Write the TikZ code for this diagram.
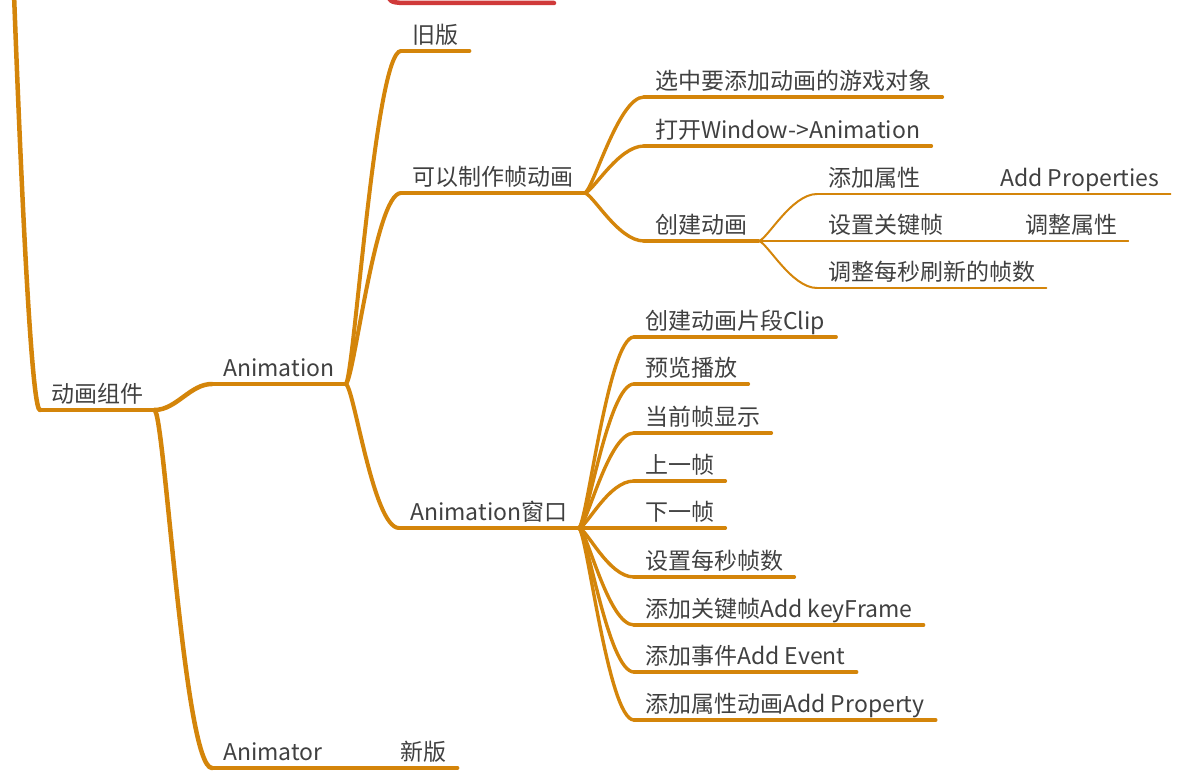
\documentclass[tikz,border=0pt]{standalone}
\usepackage{fontspec}
\setmainfont{Noto Sans CJK SC}
\usetikzlibrary{positioning}
\definecolor{mmorange}{HTML}{D4850A}
\definecolor{mmred}{HTML}{D03A3A}
\definecolor{mmtext}{HTML}{404040}

\tikzset{
  topic/.style={anchor=south west, inner xsep=11pt, inner ysep=0pt,
    text height=17pt, text depth=7pt, text=mmtext,
    font=\fontsize{23}{27}\selectfont},
  lvone/.style={mmorange, line width=4.5pt, line cap=round},
  lvtwo/.style={mmorange, line width=4pt, line cap=round},
  lvthree/.style={mmorange, line width=3.4pt, line cap=round},
  lvfour/.style={mmorange, line width=2pt, line cap=round},
  lvfive/.style={mmorange, line width=1.5pt, line cap=round},
  link/.style={out=0, in=180, out distance=8pt, in distance=26pt}
}

\begin{document}
\begin{tikzpicture}[x=1pt, y=-1pt]

\useasboundingbox (0,0) rectangle (1189,778);

% Other branch cut off at the top
\draw[mmred, line width=4.5pt, line cap=round] (386,-10) .. controls (390,2) .. (402,3) -- (554,3);

% =========== Root ===========
\coordinate (top) at (14,-6);
\node[topic] (root) at (40,410) {动画组件};

% =========== Level 1 ===========
\node[topic] (anim) at (212,384) {Animation};
\node[topic] (animator) at (212,768) {Animator};
\node[topic] (newver) at (389,768) {新版};

% =========== Level 2 ===========
\node[topic] (old) at (401,51) {旧版};
\node[topic] (frame) at (401,193) {可以制作帧动画};
\node[topic] (window) at (399,528) {Animation窗口};

% Frame animation steps
\node[topic] (select) at (644,97) {选中要添加动画的游戏对象};
\node[topic] (open) at (644,146) {打开Window->Animation};
\node[topic] (create) at (644,241) {创建动画};

\node[topic] (addprop) at (817,194) {添加属性};
\node[topic] (addpropx) at (989,194) {Add Properties};
\node[topic] (setkey) at (817,241) {设置关键帧};
\node[topic] (adjust) at (1014,241) {调整属性};
\node[topic] (fps) at (817,288) {调整每秒刷新的帧数};

% Animation window items
\node[topic] (clip) at (634,337) {创建动画片段Clip};
\node[topic] (preview) at (634,384) {预览播放};
\node[topic] (current) at (634,433) {当前帧显示};
\node[topic] (prev) at (634,481) {上一帧};
\node[topic] (next) at (634,528) {下一帧};
\node[topic] (rate) at (634,577) {设置每秒帧数};
\node[topic] (keyframe) at (634,625) {添加关键帧Add keyFrame};
\node[topic] (event) at (634,672) {添加事件Add Event};
\node[topic] (property) at (634,720) {添加属性动画Add Property};

% Underlines
\foreach \n in {root, anim, animator}
  \draw[lvone] (\n.south west) -- (\n.south east);
\foreach \n in {newver, old, frame, window}
  \draw[lvtwo] (\n.south west) -- (\n.south east);
\foreach \n in {select, open, create, clip, preview, current, prev, next, rate, keyframe, event, property}
  \draw[lvthree] (\n.south west) -- (\n.south east);
\foreach \n in {addprop, setkey, fps}
  \draw[lvfour] (\n.south west) -- (\n.south east);
\foreach \n in {addpropx, adjust}
  \draw[lvfive] (\n.south west) -- (\n.south east);

% Connectors
\draw[lvone] (top) .. controls (24,260) and (33,411) .. (root.south west);
\draw[lvone] (root.south east) to[link, out distance=22pt, in distance=22pt] (anim.south west);
\draw[lvone] (root.south east) to[link, out distance=10pt, in distance=28pt] (animator.south west);
\draw[lvtwo] (animator.south east) -- (newver.south west);

\foreach \n in {old, frame, window}
  \draw[lvtwo] (anim.south east) to[link] (\n.south west);

\foreach \n in {select, open, create}
  \draw[lvthree] (frame.south east) to[link] (\n.south west);

\foreach \n in {addprop, setkey, fps}
  \draw[lvfour] (create.south east) to[link] (\n.south west);
\draw[lvfive] (addprop.south east) -- (addpropx.south west);
\draw[lvfive] (setkey.south east) -- (adjust.south west);

\foreach \n in {clip, preview, current, prev, next, rate, keyframe, event, property}
  \draw[lvthree] (window.south east) to[link] (\n.south west);

\end{tikzpicture}
\end{document}
